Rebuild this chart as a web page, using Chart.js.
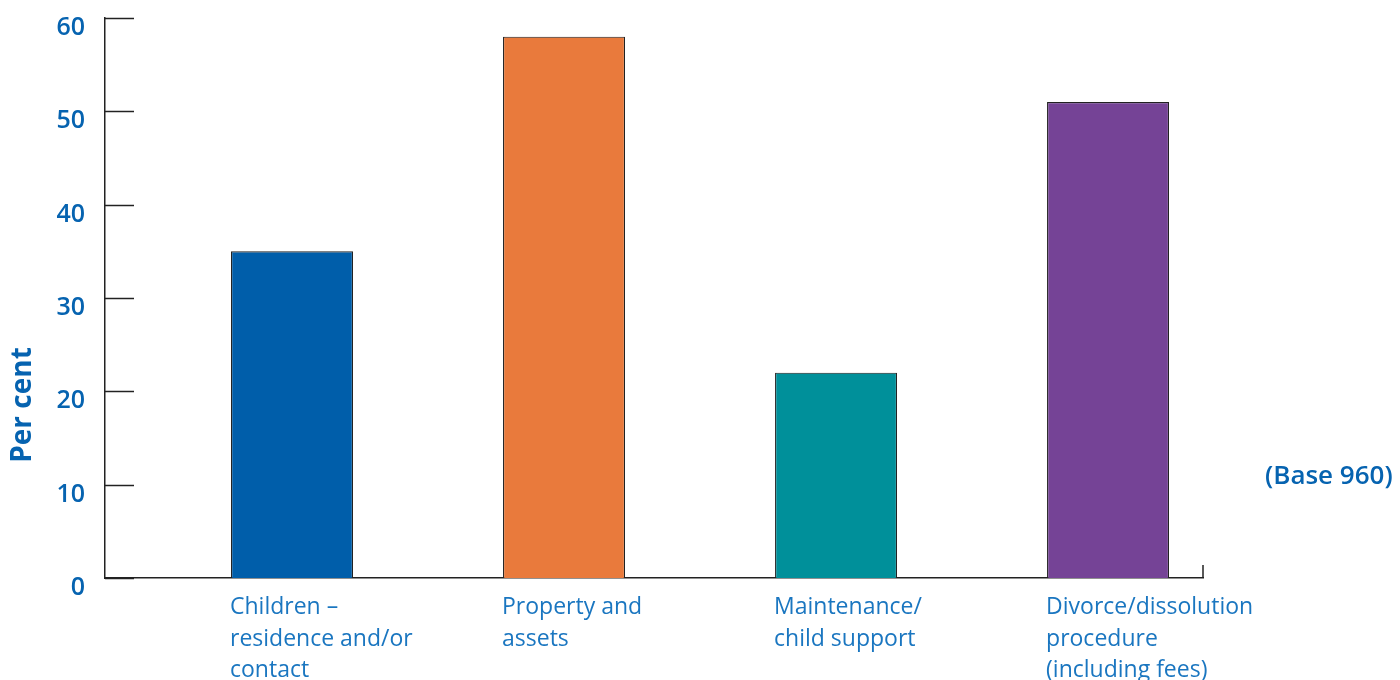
<!DOCTYPE html>
<html>
<head>
<meta charset="utf-8">
<script src="https://cdn.jsdelivr.net/npm/chart.js@4.4.0/dist/chart.umd.min.js"></script>
<style>
html,body{margin:0;padding:0;background:#fff;}
#wrap{width:1400px;height:680px;position:relative;}
</style>
</head>
<body>
<div id="wrap"><canvas id="c" width="1400" height="680"></canvas></div>
<script>
const categories = [
  ["Children –", "residence and/or", "contact"],
  ["Property and", "assets"],
  ["Maintenance/", "child support"],
  ["Divorce/dissolution", "procedure", "(including fees)"]
];
const values = [35, 58, 22, 51];
const barColors = ["#005EAA", "#E97A3C", "#00909A", "#754396"];
const yTicks = [0, 10, 20, 30, 40, 50, 60];
const yTitle = "Per cent";
const baseNote = "(Base 960)";

const tickBlue = "#0663B0";
const labelBlue = "#1A76C0";

const extras = {
  id: "extras",
  afterDraw(chart) {
    const ctx = chart.ctx;
    const y = chart.scales.y;
    const area = chart.chartArea;
    ctx.save();
    ctx.strokeStyle = "#222";
    ctx.lineWidth = 1.5;
    y.ticks.forEach(t => {
      const py = Math.round(y.getPixelForValue(t.value)) + 0.5;
      ctx.beginPath();
      ctx.moveTo(area.left, py);
      ctx.lineTo(area.left + 29, py);
      ctx.stroke();
    });
    ctx.beginPath();
    ctx.moveTo(area.right, area.bottom);
    ctx.lineTo(area.right, area.bottom - 13);
    ctx.stroke();
    ctx.fillStyle = tickBlue;
    ctx.font = "bold 28px 'Open Sans'";
    ctx.textAlign = "center";
    ctx.textBaseline = "middle";
    ctx.translate(23, 405);
    ctx.rotate(-Math.PI / 2);
    ctx.fillText(yTitle, 0, 0);
    ctx.restore();
    ctx.save();
    ctx.fillStyle = tickBlue;
    ctx.font = "600 26px 'Open Sans'";
    ctx.textAlign = "left";
    ctx.textBaseline = "middle";
    ctx.fillText(baseNote, 1265, 477);
    ctx.restore();
  }
};

new Chart(document.getElementById("c"), {
  type: "bar",
  data: {
    datasets: [{
      data: values.map((v, i) => ({ x: i + 1, y: v })),
      backgroundColor: barColors,
      borderColor: "#222",
      borderWidth: 1.2,
      borderSkipped: "bottom",
      categoryPercentage: 1,
      barPercentage: 0.4485
    }]
  },
  options: {
    responsive: false,
    animation: false,
    layout: { padding: { top: 18, right: 197, bottom: 0, left: 0 } },
    plugins: { legend: { display: false }, tooltip: { enabled: false } },
    scales: {
      x: {
        type: "linear",
        offset: false,
        min: 0.3125,
        max: 4.349,
        afterBuildTicks: s => { s.ticks = categories.map((c, i) => ({ value: i + 1 })); },
        afterFit: s => { s.height = 102; s.paddingLeft = 0; s.paddingRight = 0; },
        grid: { display: false, drawTicks: false, offset: false },
        border: { display: true, color: "#222", width: 1.5 },
        ticks: {
          callback: v => categories[v - 1],
          align: "start",
          labelOffset: -62,
          autoSkip: false,
          maxRotation: 0,
          padding: 14,
          color: labelBlue,
          font: { family: "'Open Sans'", size: 23, lineHeight: 1.37 }
        }
      },
      y: {
        min: 0,
        max: 60,
        afterBuildTicks: s => { s.ticks = yTicks.map(v => ({ value: v })); },
        afterFit: s => { s.width = 105; s.paddingTop = 0; s.paddingBottom = 0; },
        grid: { display: false, drawTicks: false },
        border: { display: true, color: "#222", width: 1.5 },
        ticks: {
          padding: 20,
          labelOffset: 10,
          color: tickBlue,
          font: { family: "'Open Sans'", size: 25, weight: "600" }
        }
      }
    }
  },
  plugins: [extras]
});
</script>
</body>
</html>
